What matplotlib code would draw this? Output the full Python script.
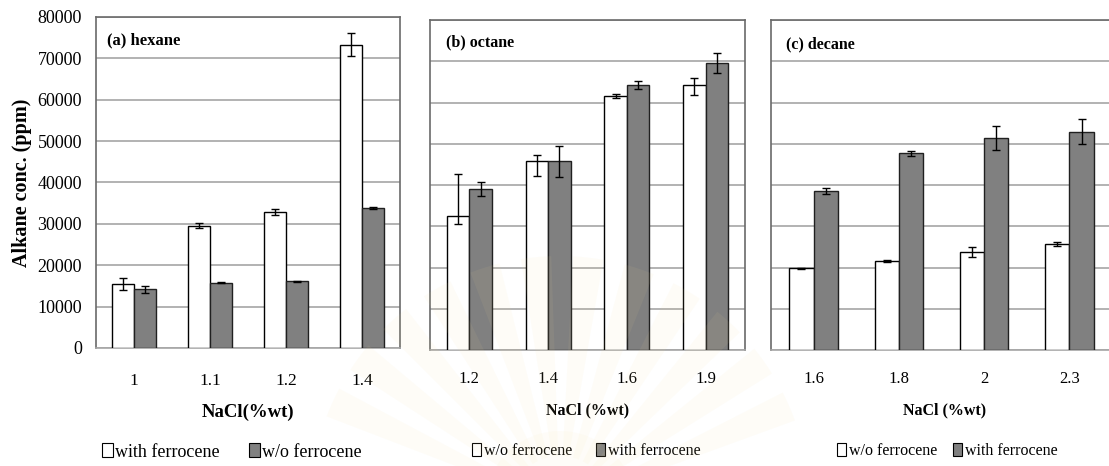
import matplotlib.pyplot as plt
import matplotlib
import numpy as np
from matplotlib.patches import Patch, Wedge

matplotlib.rcParams['font.family'] = ['Liberation Serif', 'DejaVu Serif']

# NaCl concentrations (%wt) for each alkane
nacl_hexane = ['1', '1.1', '1.2', '1.4']
nacl_octane = ['1.2', '1.4', '1.6', '1.9']
nacl_decane = ['1.6', '1.8', '2', '2.3']

# (a) hexane, ppm
hexane_with = [15400, 29600, 32900, 73300]
hexane_with_err = [1500, 700, 800, 2800]
hexane_wo = [14200, 15800, 16100, 33800]
hexane_wo_err = [800, 150, 150, 300]

# (b) octane, ppm
octane_wo = [32500, 45700, 61600, 64200]
octane_wo_err_lo = [2000, 3600, 400, 2300]
octane_wo_err_hi = [10100, 1500, 400, 1700]
octane_with = [39100, 45700, 64200, 69500]
octane_with_err = [1700, 3700, 900, 2400]

# (c) decane, ppm
decane_wo = [19800, 21600, 23800, 25600]
decane_wo_err = [150, 150, 1200, 500]
decane_with = [38500, 47700, 51400, 52900]
decane_with_err = [700, 650, 3000, 3000]

W, H = 1109, 466
GRID = '#a6a6a6'
FRAME = '#6a6a6a'
BAR_GRAY = '#808080'
ERR_KW = dict(ecolor='black', elinewidth=1, capsize=2.6, capthick=1)

fig = plt.figure(figsize=(W / 100, H / 100), dpi=100)


def add_panel(left, top, right, bottom):
    return fig.add_axes([left / W, 1 - bottom / H, (right - left) / W, (bottom - top) / H])


def draw_panel(ax, labels, first, first_err, second, second_err, title, tick_size):
    x = np.arange(len(labels))
    w = 0.285
    ax.bar(x - w / 2, first, w, color='white', edgecolor='black', linewidth=1,
           yerr=first_err, error_kw=ERR_KW, zorder=3)
    ax.bar(x + w / 2, second, w, color=BAR_GRAY, edgecolor='#202020', linewidth=1,
           yerr=second_err, error_kw=ERR_KW, zorder=3)
    ax.set_xlim(-0.5, len(labels) - 0.5)
    ax.set_ylim(0, 80000)
    ax.set_yticks(np.arange(0, 80001, 10000))
    ax.grid(axis='y', color=GRID, linewidth=1.2, zorder=0)
    ax.set_xticks(x)
    ax.set_xticklabels(labels, fontsize=tick_size)
    ax.tick_params(length=0)
    for side in ['left', 'top', 'right']:
        ax.spines[side].set_color(FRAME)
        ax.spines[side].set_linewidth(1.2)
    ax.spines['bottom'].set_color(GRID)
    ax.spines['bottom'].set_linewidth(1.2)
    ax.text(title[1], title[2], title[0], transform=ax.transAxes,
            fontsize=title[3], fontweight='bold', va='center', ha='left')


def fig_text(x, y, s, **kw):
    fig.text(x / W, 1 - y / H, s, ha='center', va='center', **kw)


def add_legend(x, y, names, size, gap):
    handles = [Patch(facecolor='white', edgecolor='black', linewidth=0.8),
               Patch(facecolor=BAR_GRAY, edgecolor='black', linewidth=0.8)]
    fig.legend(handles, names, loc='center', bbox_to_anchor=(x / W, 1 - y / H),
               ncol=2, frameon=False, fontsize=size, handlelength=0.6,
               handleheight=0.8, handletextpad=0.15, columnspacing=gap,
               borderpad=0, borderaxespad=0)


# (a) hexane
ax1 = add_panel(96, 17, 400, 348)
draw_panel(ax1, nacl_hexane, hexane_with, hexane_with_err, hexane_wo, hexane_wo_err,
           ('(a) hexane', 0.036, 0.93, 12), 12.5)
ax1.tick_params(axis='y', labelsize=13, pad=10)
ax1.tick_params(axis='x', pad=18)
ax1.set_ylabel('Alkane conc. (ppm)', fontsize=14.5, fontweight='bold', labelpad=4)
fig_text(248, 412, 'NaCl(%wt)', fontsize=13.5, fontweight='bold')
add_legend(232, 452, ['with ferrocene', 'w/o ferrocene'], 13, 1.6)

# (b) octane
ax2 = add_panel(430, 20, 745, 350)
draw_panel(ax2, nacl_octane, octane_wo, [octane_wo_err_lo, octane_wo_err_hi],
           octane_with, octane_with_err, ('(b) octane', 0.05, 0.933, 11.5), 12)
ax2.tick_params(axis='y', labelleft=False)
ax2.tick_params(axis='x', pad=15)
fig_text(588, 410, 'NaCl (%wt)', fontsize=11.5, fontweight='bold')
add_legend(586, 451, ['w/o ferrocene', 'with ferrocene'], 11.5, 1.5)

# (c) decane
ax3 = add_panel(771, 20, 1112, 350)
draw_panel(ax3, nacl_decane, decane_wo, decane_wo_err, decane_with, decane_with_err,
           ('(c) decane', 0.044, 0.927, 11.5), 12)
ax3.tick_params(axis='y', labelleft=False)
ax3.tick_params(axis='x', pad=15)
ax3.spines['right'].set_visible(False)
fig_text(945, 410, 'NaCl (%wt)', fontsize=11.5, fontweight='bold')
add_legend(947, 451, ['w/o ferrocene', 'with ferrocene'], 11.5, 1.0)

# faint sunburst emblem printed over the lower middle of the page
overlay = fig.add_axes([0, 0, 1, 1], zorder=10)
overlay.set_xlim(0, W)
overlay.set_ylim(0, H)
overlay.axis('off')
overlay.patch.set_alpha(0)
for a in np.arange(20, 160, 12):
    overlay.add_patch(Wedge((560, -40), 250, a, a + 7, width=200,
                            facecolor='#f2dc96', edgecolor='none', alpha=0.07))
overlay.add_patch(Wedge((560, -40), 75, 0, 180, facecolor='#f2dc96',
                        edgecolor='none', alpha=0.06))

plt.savefig('out.png', dpi=100)
plt.close()
